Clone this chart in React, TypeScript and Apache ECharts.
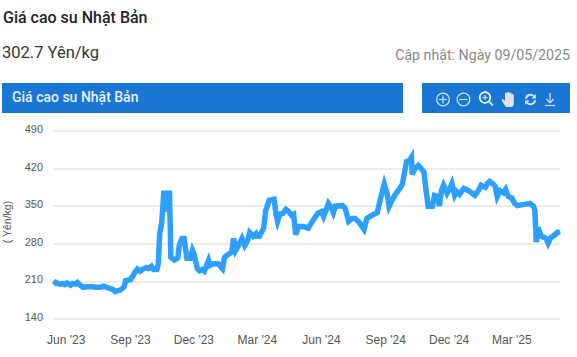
import React, { useEffect, useRef } from "react";
import * as echarts from "echarts";

const dates = [
"2023-05-14","2023-05-17","2023-05-20","2023-05-23","2023-05-27","2023-05-30","2023-06-02","2023-06-07","2023-06-10","2023-06-14","2023-06-17","2023-06-21","2023-06-25","2023-07-01","2023-07-08","2023-07-14","2023-07-20","2023-07-25","2023-07-29","2023-08-02","2023-08-07","2023-08-10","2023-08-14","2023-08-18","2023-08-23","2023-08-25","2023-09-01","2023-09-04","2023-09-07","2023-09-11","2023-09-15","2023-09-19","2023-09-24","2023-09-27","2023-10-01","2023-10-04","2023-10-09","2023-10-11","2023-10-13","2023-10-16","2023-10-19","2023-10-21","2023-10-23","2023-10-25","2023-10-27","2023-10-29","2023-10-31","2023-11-03","2023-11-06","2023-11-08","2023-11-10","2023-11-14","2023-11-17","2023-11-21","2023-11-26","2023-11-29","2023-12-01","2023-12-06","2023-12-09","2023-12-13","2023-12-16","2023-12-22","2023-12-24","2023-12-29","2024-01-05","2024-01-11","2024-01-14","2024-01-19","2024-01-24","2024-01-27","2024-01-30","2024-02-03","2024-02-08","2024-02-12","2024-02-16","2024-02-19","2024-02-24","2024-02-28","2024-03-01","2024-03-04","2024-03-10","2024-03-13","2024-03-18","2024-03-25","2024-03-28","2024-03-30","2024-04-02","2024-04-07","2024-04-11","2024-04-15","2024-04-19","2024-04-22","2024-04-25","2024-04-29","2024-05-06","2024-05-13","2024-05-20","2024-05-27","2024-06-01","2024-06-04","2024-06-11","2024-06-15","2024-06-18","2024-06-21","2024-07-01","2024-07-05","2024-07-10","2024-07-15","2024-07-19","2024-07-25","2024-08-01","2024-08-05","2024-08-12","2024-08-20","2024-08-24","2024-08-27","2024-08-30","2024-09-03","2024-09-06","2024-09-10","2024-09-15","2024-09-19","2024-09-25","2024-09-28","2024-10-01","2024-10-05","2024-10-08","2024-10-09","2024-10-13","2024-10-18","2024-10-22","2024-10-26","2024-10-29","2024-11-01","2024-11-07","2024-11-10","2024-11-15","2024-11-17","2024-11-20","2024-11-23","2024-11-28","2024-12-02","2024-12-05","2024-12-09","2024-12-12","2024-12-16","2024-12-22","2024-12-29","2025-01-07","2025-01-12","2025-01-16","2025-01-22","2025-01-25","2025-01-28","2025-02-02","2025-02-05","2025-02-08","2025-02-12","2025-02-17","2025-02-20","2025-02-24","2025-03-01","2025-03-05","2025-03-09","2025-03-17","2025-03-27","2025-04-01","2025-04-03","2025-04-05","2025-04-07","2025-04-09","2025-04-12","2025-04-16","2025-04-19","2025-04-22","2025-04-26","2025-05-01","2025-05-05","2025-05-09"
];
const prices = [
204,208,206,205,206,204,207,203,206,205,208,203,199,200,200,199,199,201,199,197,195,191,193,194,200,211,213,219,226,233,229,233,236,234,238,232,232,243,299,320,379,340,379,340,379,255,253,250,252,254,277,290,290,253,253,268,262,234,230,232,229,249,240,243,243,234,255,260,264,290,268,277,290,277,286,301,294,299,294,294,309,342,361,363,333,322,335,337,344,340,333,335,297,312,312,309,324,337,340,331,355,348,338,350,351,346,322,327,327,320,307,327,333,338,361,376,391,374,350,361,372,379,391,413,433,435,441,409,420,426,420,413,379,350,350,370,368,350,379,389,374,383,392,370,377,372,383,379,370,379,389,385,392,396,391,387,368,379,375,381,368,365,355,351,353,355,350,342,283,303,305,294,292,290,281,292,296,301,302.7
];
const yTicks = { min: 140, max: 490, step: 70 };
const xLabelDates = ["2023-06-01","2023-09-01","2023-12-01","2024-03-01","2024-06-01","2024-09-01","2024-12-01","2025-03-01"];
const xLabels = ["Jun '23","Sep '23","Dec '23","Mar '24","Jun '24","Sep '24","Dec '24","Mar '25"];
const xStart = "2023-05-13";
const xEnd = "2025-05-09";

const pageTitle = "Giá cao su Nhật Bản";
const currentPrice = "302.7 Yên/kg";
const updated = "Cập nhật: Ngày 09/05/2025";
const yName = "( Yên/kg)";

const HAND = "M5 15 L1 9 Q0 7 2 7 L4 9 V2 Q4 0.5 5 0.5 Q6 0.5 6 2 V1 Q6 0 7.2 0 Q8.4 0 8.4 1 V1.5 Q8.4 0.5 9.5 0.5 Q10.6 0.5 10.6 2 V3 Q10.6 2 11.6 2 Q12.8 2 12.8 3.5 V11 Q12.8 15 10 15 Z";
const REFRESH = "M2 7 A5.5 5.5 0 0 1 11.5 3.5 L13 2 V6.5 H8.5 L10.2 4.8 A3.8 3.8 0 0 0 3.8 7 Z M13 8 A5.5 5.5 0 0 1 3.5 11.5 L2 13 V8.5 H6.5 L4.8 10.2 A3.8 3.8 0 0 0 11.2 8 Z";
echarts.graphic.registerShape("handIcon", echarts.graphic.extendPath(HAND, {}));
echarts.graphic.registerShape("refreshIcon", echarts.graphic.extendPath(REFRESH, {}));

const ICON = "#cfe2f6";
const stroke = { stroke: ICON, lineWidth: 1.2, fill: "none" };
const ln = (x1: number, y1: number, x2: number, y2: number, lineWidth = 1.2) => ({
  type: "line", shape: { x1, y1, x2, y2 }, style: { stroke: ICON, lineWidth },
});
const ts = (d: string) => Date.parse(d + "T00:00:00Z");

export default function App() {
  const ref = useRef<HTMLDivElement>(null);
  useEffect(() => {
    document.body.style.margin = "0";
    const chart = echarts.init(ref.current!, undefined, { renderer: "svg" });
    chart.setOption({
      animation: false,
      backgroundColor: "#fff",
      grid: { left: 53, right: 17, top: 131, bottom: 38, outerBoundsMode: "none" },
      xAxis: {
        type: "value",
        min: ts(xStart),
        max: ts(xEnd),
        axisLine: { show: false },
        axisTick: { show: false },
        splitLine: { show: false },
        axisLabel: {
          customValues: xLabelDates.map(ts),
          formatter: (v: number) => {
            const i = xLabelDates.findIndex((d) => ts(d) === v);
            return i >= 0 ? xLabels[i] : "";
          },
          color: "#555",
          fontFamily: "Liberation Sans",
          fontSize: 12,
          margin: 15,
        },
      },
      yAxis: {
        type: "value",
        min: yTicks.min,
        max: yTicks.max,
        interval: yTicks.step,
        name: yName,
        nameLocation: "middle",
        nameGap: 41,
        nameTextStyle: { color: "#555", fontFamily: "Liberation Sans", fontSize: 10.5, padding: [0, 0, 0, 6] },
        axisLine: { show: false },
        axisTick: { show: false },
        splitLine: { lineStyle: { color: "#e6e6e6", width: 1.5 } },
        axisLabel: {
          margin: 10,
          formatter: (v: number) => `{t|${v}}`,
          rich: { t: { color: "#555", fontFamily: "Liberation Sans", fontSize: 11, padding: [0, 0, 4, 0] } },
        },
      },
      series: [
        {
          type: "line",
          data: dates.map((d, i) => [ts(d), prices[i]]),
          showSymbol: false,
          smooth: false,
          lineStyle: { color: "#2d9ffc", width: 5.5, join: "miter", miterLimit: 10, cap: "butt" },
          itemStyle: { color: "#2d9ffc" },
        },
      ],
      graphic: [
        { type: "text", x: 3, y: 9, style: { text: pageTitle, fontFamily: "Roboto", fontSize: 16, fontWeight: 500, fill: "#212529" } },
        { type: "text", x: 2, y: 44, style: { text: currentPrice, fontFamily: "Roboto", fontSize: 16.5, fill: "#333" } },
        { type: "text", x: 570, y: 48, style: { text: updated, fontFamily: "Roboto", fontSize: 14.2, fill: "#888", align: "right" } },
        { type: "rect", shape: { x: 2, y: 83, width: 401, height: 30 }, style: { fill: "#1976d2" } },
        { type: "rect", shape: { x: 422, y: 83, width: 148, height: 30 }, style: { fill: "#1976d2" } },
        { type: "text", x: 12, y: 90, style: { text: pageTitle, fontFamily: "Roboto", fontSize: 14, fontWeight: 500, fill: "#e8f1fb" } },
        { type: "circle", shape: { cx: 443, cy: 99.5, r: 6.3 }, style: stroke },
        ln(439, 99.5, 447, 99.5), ln(443, 95.5, 443, 103.5),
        { type: "circle", shape: { cx: 463.5, cy: 99.5, r: 6.3 }, style: stroke },
        ln(459.5, 99.5, 467.5, 99.5),
        { type: "circle", shape: { cx: 485, cy: 97.5, r: 5.3 }, style: { stroke: "#fff", lineWidth: 1.6, fill: "none" } },
        ln(489, 101.5, 493, 105.5, 1.8), ln(482.5, 97.5, 487.5, 97.5), ln(485, 95, 485, 100),
        { type: "handIcon", x: 501, y: 92, style: { fill: "#dfe3e8" } },
        { type: "refreshIcon", x: 523, y: 92, style: { fill: ICON } },
        ln(550, 93, 550, 102), ln(546.5, 99, 550, 103), ln(553.5, 99, 550, 103), ln(545, 105.5, 555, 105.5),
      ],
    });
    return () => chart.dispose();
  }, []);
  return <div ref={ref} style={{ width: 577, height: 357 }} />;
}
